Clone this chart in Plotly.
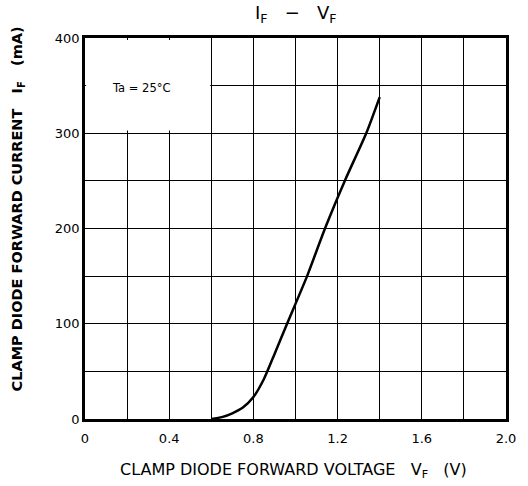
import plotly.graph_objects as go

# Data
vf = [0.6, 0.65, 0.7, 0.75, 0.8, 0.85, 0.9, 0.96, 1.055, 1.14, 1.234, 1.336, 1.4]
i_f = [0, 2, 6, 12, 23, 42, 68, 100, 150, 200, 250, 300, 338]

x_ticks = [0, 0.4, 0.8, 1.2, 1.6, 2.0]
x_tick_labels = ["0", "0.4", "0.8", "1.2", "1.6", "2.0"]
y_ticks = [0, 100, 200, 300, 400]
y_tick_labels = ["0", "100", "200", "300", "400"]

FONT = "DejaVu Sans"

fig = go.Figure()
fig.add_trace(go.Scatter(
    x=vf, y=i_f, mode="lines",
    line=dict(color="black", width=2.5, shape="spline", smoothing=0.6),
    showlegend=False, hoverinfo="skip",
))

fig.update_layout(
    width=528, height=486,
    margin=dict(l=85, r=15, t=38, b=67),
    paper_bgcolor="white", plot_bgcolor="white",
    font=dict(family=FONT, color="black", size=13),
    showlegend=False,
)

fig.update_xaxes(
    range=[0, 2.0], tickvals=x_ticks, ticktext=x_tick_labels,
    showgrid=True, gridcolor="black", gridwidth=1.2,
    minor=dict(dtick=0.2, showgrid=True, gridcolor="black", gridwidth=1.2, ticks=""),
    showline=True, linecolor="black", linewidth=2.5, mirror=True,
    ticks="", zeroline=False, tickfont=dict(size=13, family=FONT),
    ticklabelstandoff=6,
)
fig.update_yaxes(
    range=[0, 400], tickvals=y_ticks, ticktext=y_tick_labels,
    showgrid=True, gridcolor="black", gridwidth=1.2,
    minor=dict(dtick=50, showgrid=True, gridcolor="black", gridwidth=1.2, ticks=""),
    showline=True, linecolor="black", linewidth=2.5, mirror=True,
    ticks="", zeroline=False, tickfont=dict(size=13, family=FONT),
)

# blank area behind the temperature label
fig.add_shape(type="rect", xref="x", yref="y", x0=0.005, x1=0.595, y0=303, y1=398,
              fillcolor="white", line=dict(width=0), layer="between")

fig.add_annotation(x=0.12, y=347, xref="x", yref="y", text="Ta = 25°C",
                   showarrow=False, xanchor="left", font=dict(size=11.5, family=FONT))

# Title
fig.add_annotation(x=0.5, y=1.0, xref="paper", yref="paper", yshift=10,
                   text="I<sub>F</sub>   −   V<sub>F</sub>", showarrow=False,
                   yanchor="bottom", font=dict(size=18, family=FONT))

# Axis titles
fig.add_annotation(x=0.495, y=0, xref="paper", yref="paper", yshift=-39,
                   text="CLAMP DIODE FORWARD VOLTAGE   V<sub>F</sub>   (V)",
                   showarrow=False, yanchor="top", font=dict(size=16, family=FONT))
fig.add_annotation(x=0, y=0.55, xref="paper", yref="paper", xshift=-67,
                   text="<b>CLAMP DIODE FORWARD CURRENT   I<sub>F</sub>   (mA)</b>",
                   showarrow=False, textangle=-90, xanchor="center",
                   font=dict(size=14.5, family=FONT))

fig.write_html("out.html", config={"displayModeBar": False},
               post_script="document.body.style.margin='0px';")
